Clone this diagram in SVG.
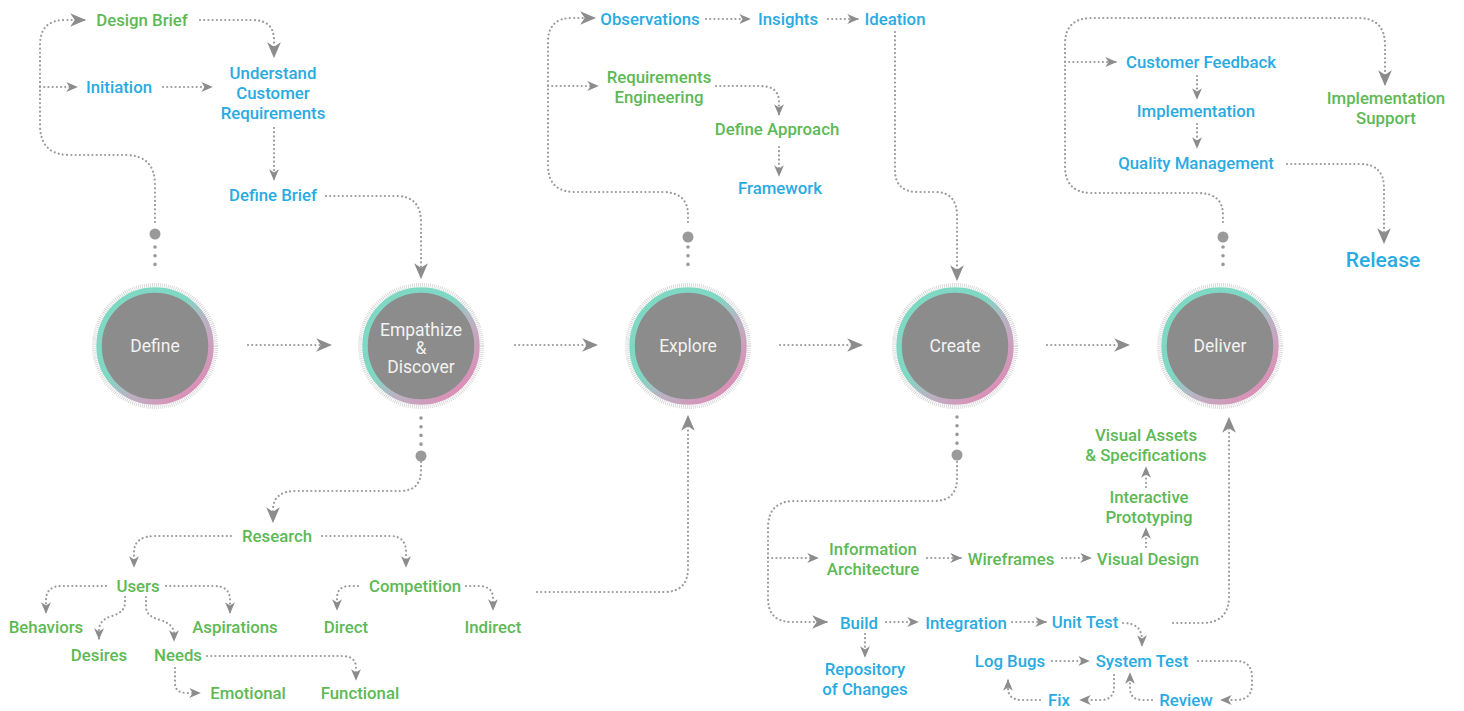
<svg xmlns="http://www.w3.org/2000/svg" width="1464" height="711" viewBox="0 0 1464 711">
<defs>
<style>
text{font-family:"Roboto","Liberation Sans",sans-serif;font-weight:500;font-size:16.8px;text-anchor:middle;dominant-baseline:central}
.g{fill:#5db955}
.b{fill:#29abe2}
.c{fill:#f2f2f2;font-weight:400;font-size:17.5px}
.rel{font-size:21px}
.con path{fill:none;stroke:#9a9a9a;stroke-width:2.2;stroke-linecap:round;stroke-dasharray:0.01 4.2}
.con path.l{marker-end:url(#al)}
.con path.s{marker-end:url(#as)}
.stem{fill:none;stroke:#9a9a9a;stroke-width:3.6;stroke-linecap:round;stroke-dasharray:0.01 8.7}
.dot{fill:#9a9a9a}
.ring{fill:none;stroke:url(#rg);stroke-width:5.5}
.tick{fill:none;stroke:#d2d2d2;stroke-width:4;stroke-dasharray:0.8 1.2}
.core{fill:#8c8c8c}
</style>
<linearGradient id="rg" x1="0" y1="0" x2="1" y2="1">
<stop offset="0" stop-color="#7ed8c3"/>
<stop offset="0.42" stop-color="#7ed8c3"/>
<stop offset="0.6" stop-color="#b9b3c3"/>
<stop offset="1" stop-color="#ec7db0"/>
</linearGradient>
<marker id="al" viewBox="0 0 14 12" refX="13" refY="6" markerWidth="16" markerHeight="14" markerUnits="userSpaceOnUse" orient="auto"><path d="M0,0 L14,6 L0,12 L4,6 Z" fill="#8c8c8c"/></marker>
<marker id="as" viewBox="0 0 14 12" refX="13" refY="6" markerWidth="11.5" markerHeight="10" markerUnits="userSpaceOnUse" orient="auto"><path d="M0,0 L14,6 L0,12 L4,6 Z" fill="#8c8c8c"/></marker>
</defs>
<rect width="1464" height="711" fill="#ffffff"/>

<g id="connectors" class="con">
<path class="l" d="M248,345 H331"/>
<path class="l" d="M515,345 H597"/>
<path class="l" d="M780,345 H862"/>
<path class="l" d="M1047,345 H1129"/>
<path class="l" d="M155,222 V185 Q155,155 125,155 H70 Q40,155 40,125 V45 Q40,20 65,20 H85"/>
<path class="s" d="M40,87 H77"/>
<path class="l" d="M200,20 H252 Q274,20 274,40 V57"/>
<path class="s" d="M163,87 H212"/>
<path class="s" d="M274,128 V180"/>
<path class="l" d="M326,196 H396 Q421,196 421,222 V278"/>
<path class="l" d="M421,462 V470 Q421,491 400,491 H296 Q273,491 273,510 V522"/>
<path class="s" d="M231,536 H156 Q134,536 134,552 V567"/>
<path class="s" d="M322,536 H390 Q406,536 406,552 V567"/>
<path class="s" d="M106,586 H62 Q46,586 46,600 V613"/>
<path class="s" d="M125,597 V603 Q125,612 112,616 Q99,620 99,630 V639"/>
<path class="s" d="M146,597 V607 Q146,616 160,620 Q174,624 174,634 V641"/>
<path class="s" d="M166,586 H214 Q230,586 230,600 V613"/>
<path class="s" d="M175,668 V683 Q175,693 187,693 H200"/>
<path class="s" d="M207,656 H342 Q356,656 356,668 V680"/>
<path class="s" d="M358,586 H350 Q337,586 337,598 V610"/>
<path class="s" d="M466,586 H478 Q493,586 493,598 V610"/>
<path class="l" d="M537,592 H664 Q688,592 688,568 V416"/>
<path class="l" d="M688,222 V215 Q688,192 662,192 H575 Q548,192 548,165 V42 Q548,18 572,18 H595"/>
<path class="s" d="M548,86 H598"/>
<path class="s" d="M706,19 H750"/>
<path class="s" d="M828,19 H858"/>
<path class="l" d="M895,32 V170 Q895,192 918,192 H935 Q957,192 957,216 V280"/>
<path class="s" d="M716,86 H760 Q779,86 779,102 V115"/>
<path class="s" d="M779,147 V176"/>
<path class="l" d="M957,462 V478 Q957,501 934,501 H795 Q768,501 768,528 V598 Q768,622 792,622 H827"/>
<path class="s" d="M768,558 H818"/>
<path class="s" d="M927,558 H961"/>
<path class="s" d="M1062,558 H1091"/>
<path class="s" d="M1146,547 V528"/>
<path class="s" d="M1146,487 V467"/>
<path class="s" d="M886,622 H918"/>
<path class="s" d="M1012,622 H1046"/>
<path class="s" d="M1123,623 Q1142,623 1142,640 V646"/>
<path class="s" d="M865,634 V657"/>
<path class="s" d="M1052,661 H1089"/>
<path class="s" d="M1198,661 H1236 Q1252,661 1252,677 V684 Q1252,700 1236,700 H1221"/>
<path class="s" d="M1152,700 H1143 Q1130,700 1130,688 V673"/>
<path class="s" d="M1114,675 V687 Q1114,700 1100,700 H1080"/>
<path class="s" d="M1040,700 H1022 Q1008,700 1008,688 V680"/>
<path class="l" d="M1173,623 H1202 Q1229,623 1229,596 V418"/>
<path class="l" d="M1223,222 V215 Q1223,193 1198,193 H1092 Q1065,193 1065,166 V44 Q1065,18 1092,18 H1358 Q1385,18 1385,45 V85"/>
<path class="s" d="M1065,62 H1116"/>
<path class="s" d="M1197,76 V99"/>
<path class="s" d="M1197,124 V148"/>
<path class="l" d="M1287,164 H1360 Q1384,164 1384,188 V243"/>
</g>

<g id="stems">
<path class="stem" d="M155,247 V273"/><circle class="dot" cx="155" cy="234" r="5.5"/>
<path class="stem" d="M688,247 V273"/><circle class="dot" cx="688" cy="237" r="5.5"/>
<path class="stem" d="M1223,247 V273"/><circle class="dot" cx="1223" cy="237" r="5.5"/>
<path class="stem" d="M421,418 V445"/><circle class="dot" cx="421" cy="456" r="5.5"/>
<path class="stem" d="M957,417 V444"/><circle class="dot" cx="957" cy="455" r="5.5"/>
</g>

<g id="define">
<circle class="tick" cx="155" cy="346" r="61"/><circle class="core" cx="155" cy="346" r="54"/><circle class="ring" cx="155" cy="346" r="56"/>
<text class="c" x="155" y="346">Define</text>
</g>
<g id="empathize">
<circle class="tick" cx="421" cy="346" r="61"/><circle class="core" cx="421" cy="346" r="54"/><circle class="ring" cx="421" cy="346" r="56"/>
<text class="c" x="421" y="330">Empathize</text><text class="c" x="421" y="348">&amp;</text><text class="c" x="421" y="367">Discover</text>
</g>
<g id="explore">
<circle class="tick" cx="688" cy="346" r="61"/><circle class="core" cx="688" cy="346" r="54"/><circle class="ring" cx="688" cy="346" r="56"/>
<text class="c" x="688" y="346">Explore</text>
</g>
<g id="create">
<circle class="tick" cx="955" cy="346" r="61"/><circle class="core" cx="955" cy="346" r="54"/><circle class="ring" cx="955" cy="346" r="56"/>
<text class="c" x="955" y="346">Create</text>
</g>
<g id="deliver">
<circle class="tick" cx="1220" cy="346" r="61"/><circle class="core" cx="1220" cy="346" r="54"/><circle class="ring" cx="1220" cy="346" r="56"/>
<text class="c" x="1220" y="346">Deliver</text>
</g>

<g id="design-brief"><text class="g" x="142" y="20">Design Brief</text></g>
<g id="initiation"><text class="b" x="119" y="87">Initiation</text></g>
<g id="understand"><text class="b" x="273" y="73">Understand</text><text class="b" x="273" y="93">Customer</text><text class="b" x="273" y="113">Requirements</text></g>
<g id="define-brief"><text class="b" x="273" y="195">Define Brief</text></g>

<g id="observations"><text class="b" x="650" y="19">Observations</text></g>
<g id="insights"><text class="b" x="788" y="19">Insights</text></g>
<g id="ideation"><text class="b" x="895" y="19">Ideation</text></g>
<g id="req-eng"><text class="g" x="659" y="77">Requirements</text><text class="g" x="659" y="97">Engineering</text></g>
<g id="define-approach"><text class="g" x="777" y="129">Define Approach</text></g>
<g id="framework"><text class="b" x="780" y="188">Framework</text></g>

<g id="customer-feedback"><text class="b" x="1201" y="62">Customer Feedback</text></g>
<g id="implementation"><text class="b" x="1196" y="111">Implementation</text></g>
<g id="quality"><text class="b" x="1196" y="163">Quality Management</text></g>
<g id="impl-support"><text class="g" x="1386" y="98">Implementation</text><text class="g" x="1386" y="118">Support</text></g>
<g id="release"><text class="b rel" x="1383" y="260">Release</text></g>

<g id="research"><text class="g" x="277" y="536">Research</text></g>
<g id="users"><text class="g" x="138" y="586">Users</text></g>
<g id="competition"><text class="g" x="415" y="586">Competition</text></g>
<g id="behaviors"><text class="g" x="46" y="627">Behaviors</text></g>
<g id="desires"><text class="g" x="99" y="655">Desires</text></g>
<g id="aspirations"><text class="g" x="235" y="627">Aspirations</text></g>
<g id="needs"><text class="g" x="178" y="655">Needs</text></g>
<g id="emotional"><text class="g" x="248" y="693">Emotional</text></g>
<g id="functional"><text class="g" x="360" y="693">Functional</text></g>
<g id="direct"><text class="g" x="346" y="627">Direct</text></g>
<g id="indirect"><text class="g" x="493" y="627">Indirect</text></g>

<g id="info-arch"><text class="g" x="873" y="549">Information</text><text class="g" x="873" y="569">Architecture</text></g>
<g id="wireframes"><text class="g" x="1011" y="559">Wireframes</text></g>
<g id="visual-design"><text class="g" x="1148" y="559">Visual Design</text></g>
<g id="interactive"><text class="g" x="1149" y="497">Interactive</text><text class="g" x="1149" y="517">Prototyping</text></g>
<g id="visual-assets"><text class="g" x="1146" y="435">Visual Assets</text><text class="g" x="1146" y="455">&amp; Specifications</text></g>
<g id="build"><text class="b" x="859" y="623">Build</text></g>
<g id="integration"><text class="b" x="966" y="623">Integration</text></g>
<g id="unit-test"><text class="b" x="1085" y="622">Unit Test</text></g>
<g id="repository"><text class="b" x="865" y="669">Repository</text><text class="b" x="865" y="689">of Changes</text></g>
<g id="log-bugs"><text class="b" x="1010" y="661">Log Bugs</text></g>
<g id="system-test"><text class="b" x="1142" y="661">System Test</text></g>
<g id="fix"><text class="b" x="1059" y="700">Fix</text></g>
<g id="review"><text class="b" x="1186" y="700">Review</text></g>
</svg>
